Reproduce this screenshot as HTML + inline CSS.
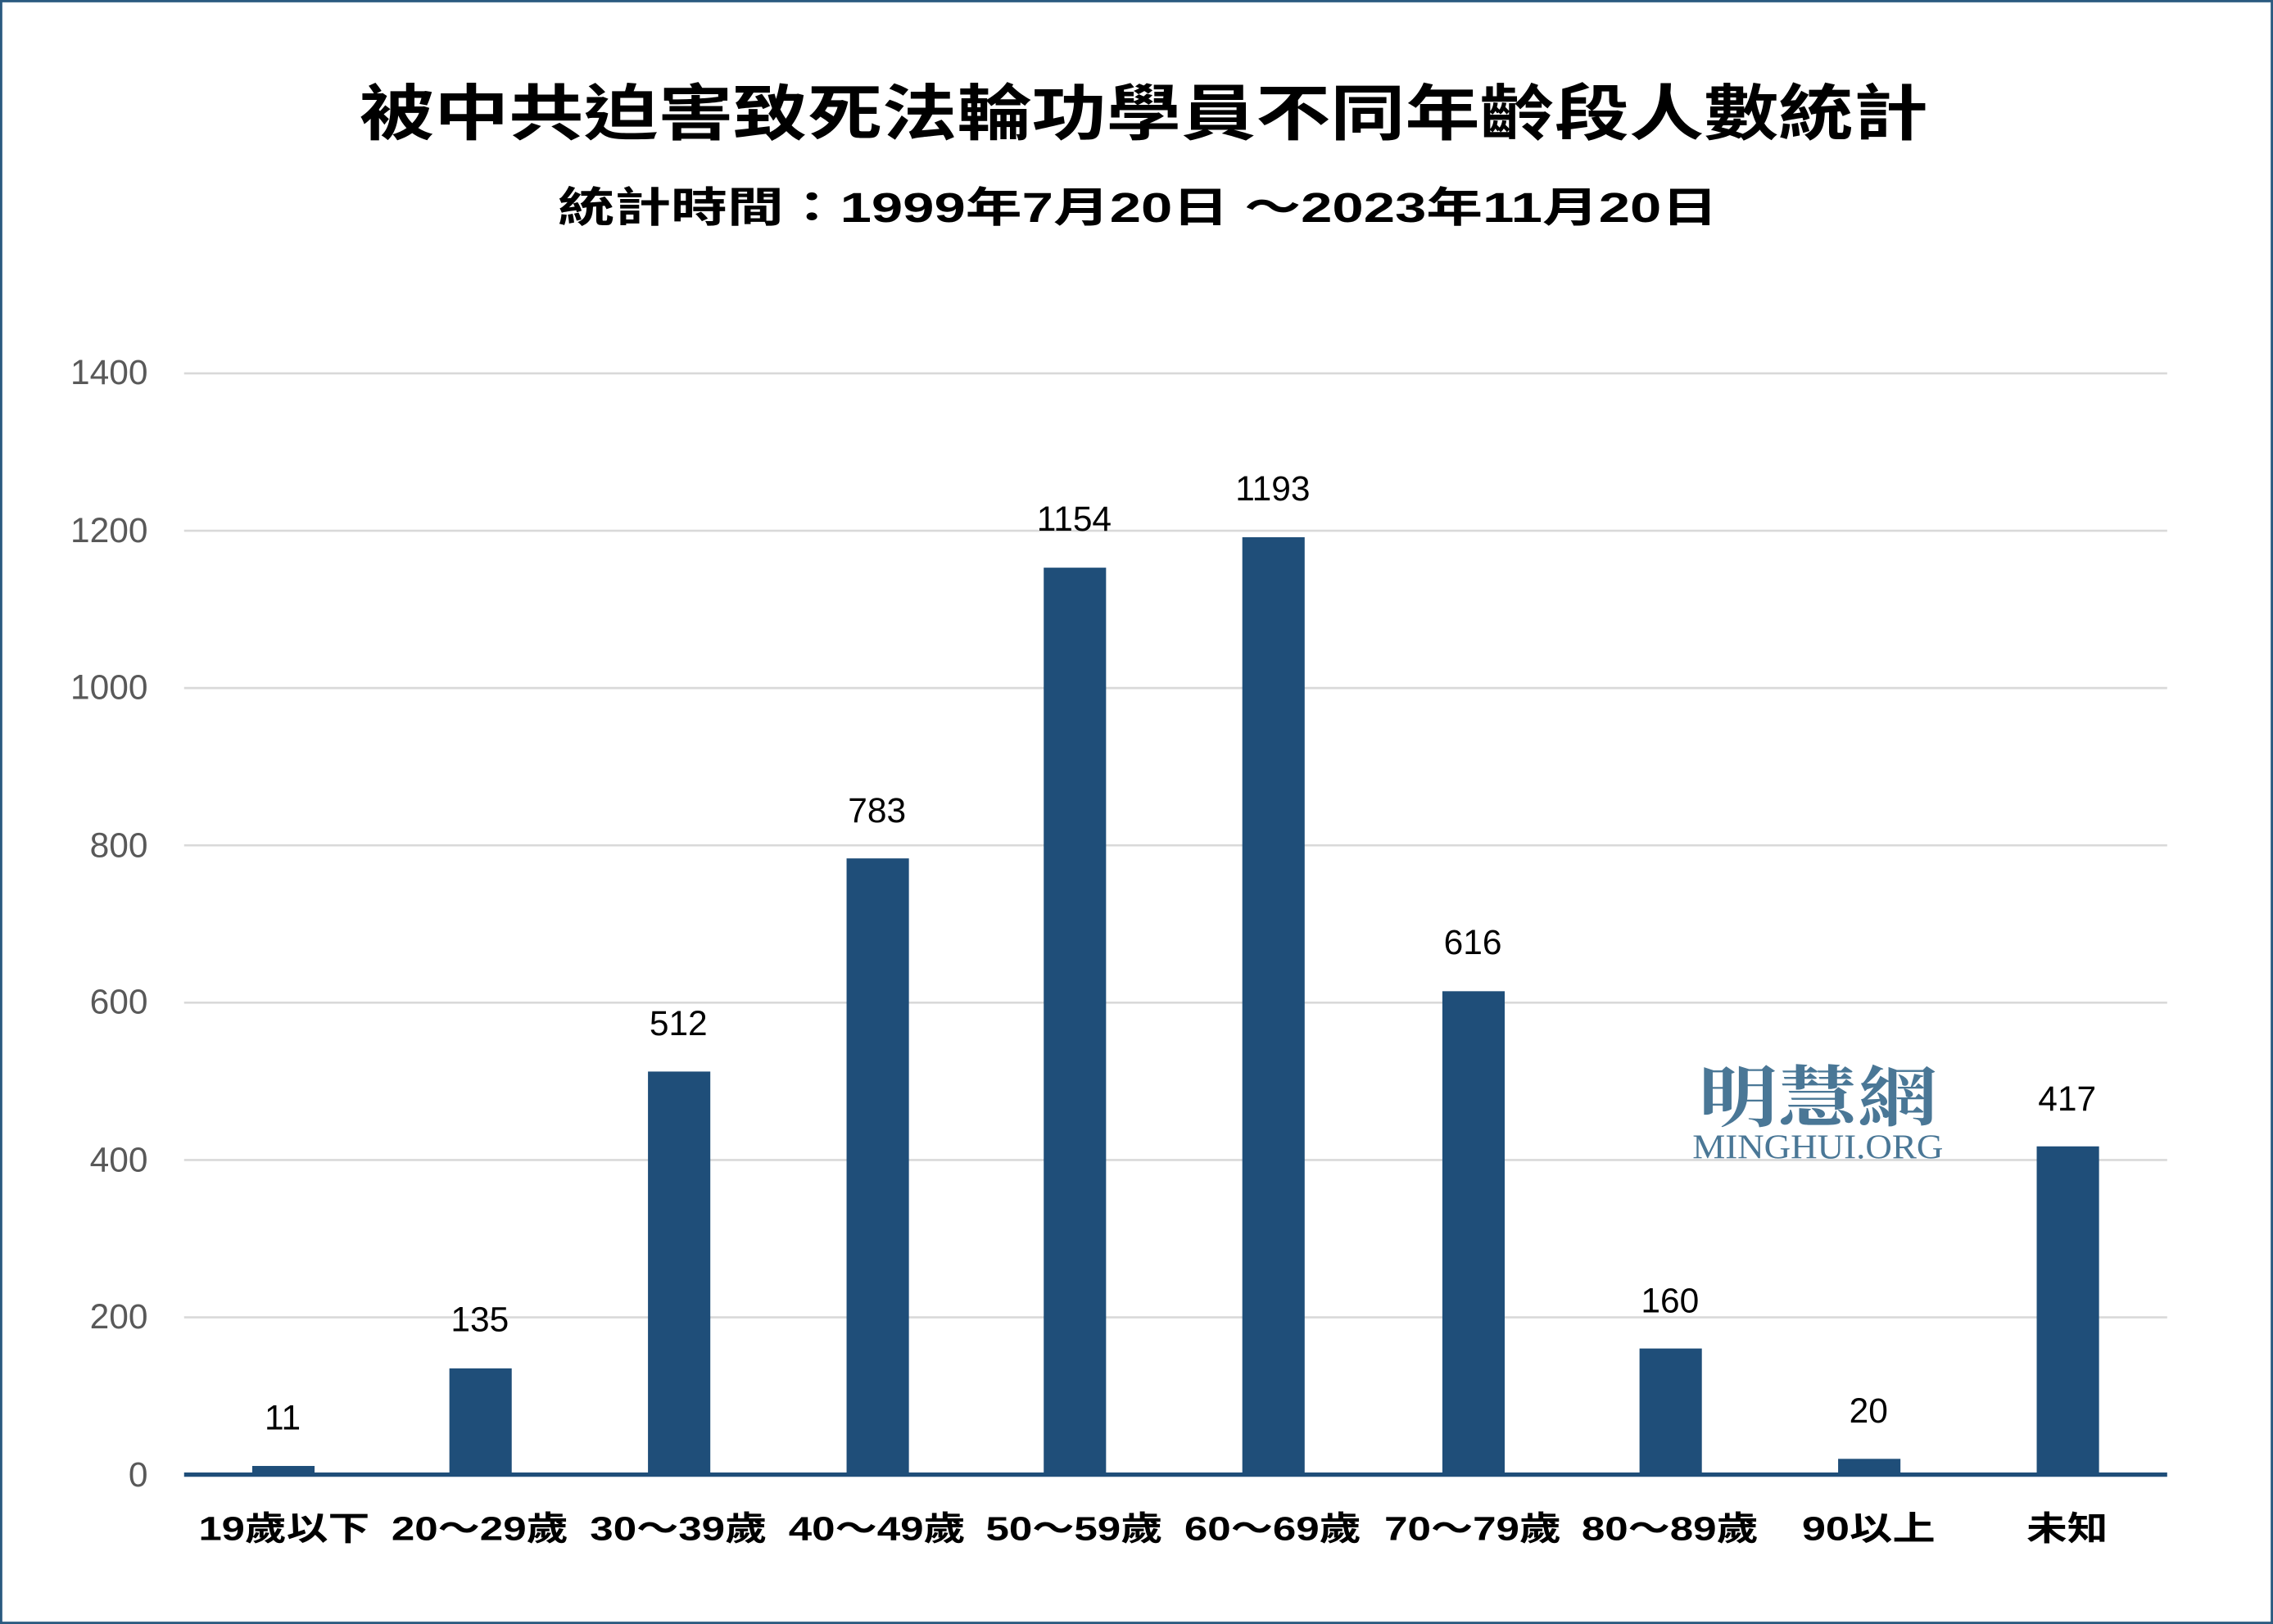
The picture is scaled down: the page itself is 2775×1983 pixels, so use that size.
<!DOCTYPE html>
<html><head><meta charset="utf-8"><style>html,body{margin:0;padding:0;background:#fff}svg{display:block}</style></head>
<body>
<svg width="2775" height="1983" viewBox="0 0 1568 1120" preserveAspectRatio="none" xmlns="http://www.w3.org/2000/svg">
<rect x="0.8" y="0.8" width="1566.4" height="1118.4" fill="#fff" stroke="#2b5a80" stroke-width="1.6"/>
<g font-family="'Liberation Sans','Noto Sans CJK TC',sans-serif" text-anchor="middle">
<text x="789" y="93" font-size="42" font-weight="bold" fill="#000" textLength="1082" lengthAdjust="spacingAndGlyphs">被中共迫害致死法輪功學員不同年齡段人數統計</text>
<text x="785" y="153" font-size="29" font-weight="bold" fill="#000" textLength="800" lengthAdjust="spacingAndGlyphs">統計時間：1999年7月20日 ～2023年11月20日</text>
</g>
<g stroke="#d9d9d9" stroke-width="1.5">
<line x1="127" x2="1495" y1="257.5" y2="257.5"/>
<line x1="127" x2="1495" y1="366" y2="366"/>
<line x1="127" x2="1495" y1="474.5" y2="474.5"/>
<line x1="127" x2="1495" y1="583" y2="583"/>
<line x1="127" x2="1495" y1="691.5" y2="691.5"/>
<line x1="127" x2="1495" y1="800" y2="800"/>
<line x1="127" x2="1495" y1="908.5" y2="908.5"/>
</g>
<g font-family="'Liberation Sans',sans-serif" font-size="24" fill="#595959" text-anchor="end">
<text x="102" y="265">1400</text><text x="102" y="374">1200</text><text x="102" y="482">1000</text>
<text x="102" y="591">800</text><text x="102" y="699">600</text><text x="102" y="808">400</text>
<text x="102" y="916">200</text><text x="102" y="1025">0</text>
</g>
<g font-family="'Liberation Serif',serif" text-anchor="middle" fill="#4a7796">
<text x="1254" y="773" font-size="46" font-weight="bold" font-family="'Noto Serif CJK SC','Noto Sans CJK TC',serif" textLength="165" lengthAdjust="spacingAndGlyphs">明慧網</text>
<text x="1254" y="799" font-size="24" textLength="173" lengthAdjust="spacingAndGlyphs">MINGHUI.ORG</text>
</g>
<g fill="#1f4e79">
<rect x="174" y="1011" width="43" height="6"/>
<rect x="310" y="943.7" width="43" height="73.3"/>
<rect x="447" y="739" width="43" height="278"/>
<rect x="584" y="592" width="43" height="425"/>
<rect x="720" y="391.5" width="43" height="625.5"/>
<rect x="857" y="370.5" width="43" height="646.5"/>
<rect x="995" y="683.6" width="43" height="333.4"/>
<rect x="1131" y="930" width="43" height="87"/>
<rect x="1268" y="1006.1" width="43" height="10.9"/>
<rect x="1405" y="790.6" width="43" height="226.4"/>
</g>
<line x1="127" x2="1495" y1="1017" y2="1017" stroke="#1f4e79" stroke-width="3"/>
<g font-family="'Liberation Sans',sans-serif" font-size="24" fill="#000" text-anchor="middle">
<text x="195" y="986">11</text><text x="331" y="918">135</text><text x="468" y="714">512</text>
<text x="605" y="567">783</text><text x="741" y="366">1154</text><text x="878" y="345">1193</text>
<text x="1016" y="658">616</text><text x="1152" y="905">160</text><text x="1289" y="981">20</text>
<text x="1426" y="766">417</text>
</g>
<g font-family="'Liberation Sans','Noto Sans CJK TC',sans-serif" font-size="23" font-weight="bold" fill="#000" text-anchor="middle">
<text x="196" y="1062" textLength="118" lengthAdjust="spacingAndGlyphs">19歲以下</text>
<text x="331" y="1062" textLength="122" lengthAdjust="spacingAndGlyphs">20～29歲</text>
<text x="468" y="1062" textLength="122" lengthAdjust="spacingAndGlyphs">30～39歲</text>
<text x="605" y="1062" textLength="122" lengthAdjust="spacingAndGlyphs">40～49歲</text>
<text x="741" y="1062" textLength="122" lengthAdjust="spacingAndGlyphs">50～59歲</text>
<text x="878" y="1062" textLength="122" lengthAdjust="spacingAndGlyphs">60～69歲</text>
<text x="1016" y="1062" textLength="122" lengthAdjust="spacingAndGlyphs">70～79歲</text>
<text x="1152" y="1062" textLength="122" lengthAdjust="spacingAndGlyphs">80～89歲</text>
<text x="1289" y="1062" textLength="92" lengthAdjust="spacingAndGlyphs">90以上</text>
<text x="1426" y="1062" textLength="56" lengthAdjust="spacingAndGlyphs">未知</text>
</g>
</svg>
</body></html>
